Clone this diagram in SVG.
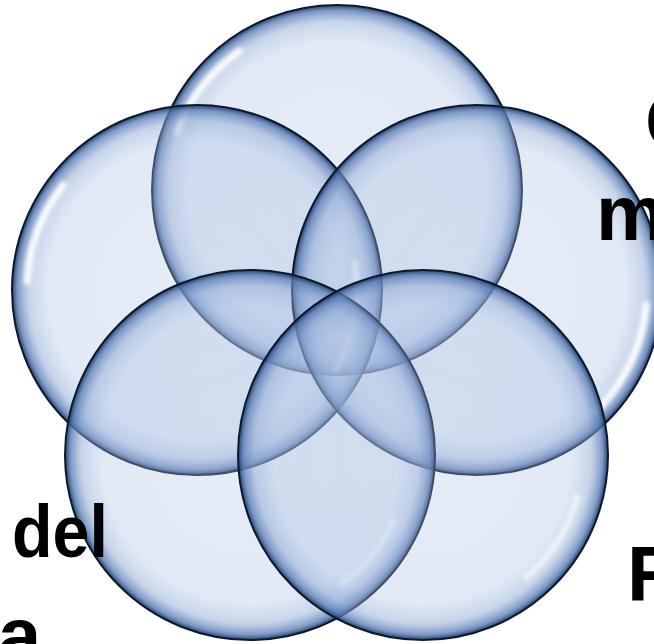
<svg xmlns="http://www.w3.org/2000/svg" width="654" height="644" viewBox="0 0 654 644">
  <defs>
    <radialGradient id="bubble" cx="50%" cy="50%" r="50%">
      <stop offset="0%" stop-color="#afc2e3" stop-opacity="0.3"/>
      <stop offset="80%" stop-color="#a9bee2" stop-opacity="0.34"/>
      <stop offset="91%" stop-color="#8ea9d4" stop-opacity="0.5"/>
      <stop offset="97%" stop-color="#587cb5" stop-opacity="0.78"/>
      <stop offset="100%" stop-color="#1d3862" stop-opacity="0.95"/>
    </radialGradient>
    <filter id="soft" x="-20%" y="-20%" width="140%" height="140%">
      <feGaussianBlur stdDeviation="2"/>
    </filter>
  </defs>
  <style>
    .ring { fill: url(#bubble); stroke: #0c1a2f; stroke-width: 2; }
    .hl { fill: none; stroke: #ffffff; stroke-width: 7; stroke-linecap: round; opacity: 0.95; filter: url(#soft); }
    .hl2 { fill: none; stroke: #ffffff; stroke-width: 6; stroke-linecap: round; opacity: 0.65; filter: url(#soft); }
    .lbl { font-family: "Liberation Sans", Arial, sans-serif; font-weight: bold; font-size: 78px; fill: #000000; }
  </style>
  <rect width="654" height="644" fill="#ffffff"/>
  <g id="connectors"/>
  <g id="circle-top">
    <circle class="ring" cx="337" cy="190" r="185"/>
    <path class="hl" d="M177.2,131.9 A170,170 0 0 1 239.5,50.8"/>
  </g>
  <g id="circle-left">
    <circle class="ring" cx="197" cy="290" r="185"/>
    <path class="hl" d="M27.2,281.1 A170,170 0 0 1 63,185.3"/>
    <path class="hl2" d="M354.6,262.2 A160,160 0 0 1 335.6,370"/>
  </g>
  <g id="circle-right">
    <circle class="ring" cx="477" cy="290" r="185"/>
    <path class="hl" d="M646.3,304.8 A170,170 0 0 1 597.2,410.2"/>
  </g>
  <g id="circle-bottom-left">
    <circle class="ring" cx="250" cy="455" r="185"/>
    <path class="hl2" d="M393.2,521.8 A158,158 0 0 1 340.7,584.4"/>
  </g>
  <g id="circle-bottom-right">
    <circle class="ring" cx="423" cy="455" r="185"/>
    <path class="hl2" d="M577.6,496.4 A160,160 0 0 1 525.9,577.6"/>
  </g>
  <g id="labels">
    <text class="lbl" x="645" y="148">C</text>
    <text class="lbl" x="596" y="240">m</text>
    <text class="lbl" x="12" y="557" style="font-size:74px" textLength="96" lengthAdjust="spacingAndGlyphs">del</text>
    <text class="lbl" x="-2" y="662">a</text>
    <text class="lbl" x="627" y="600">R</text>
  </g>
</svg>
